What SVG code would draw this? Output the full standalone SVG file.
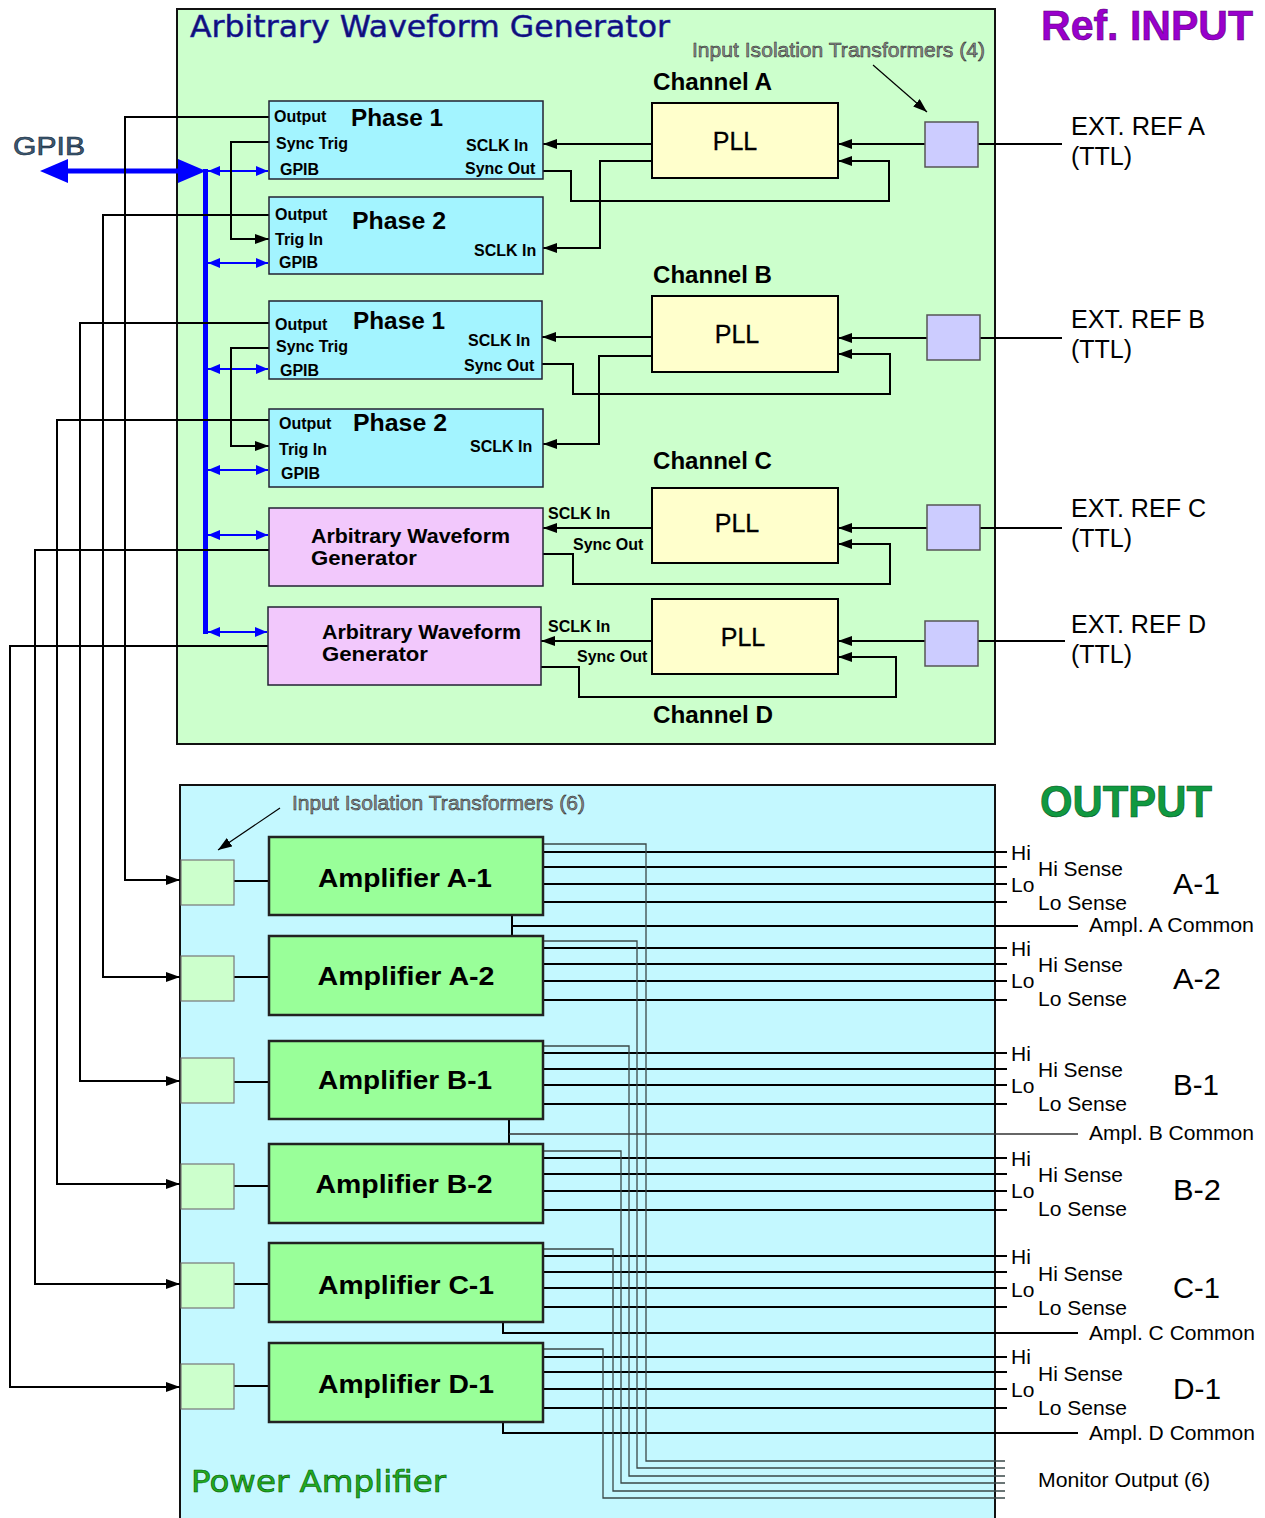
<svg xmlns="http://www.w3.org/2000/svg" width="1265" height="1518" viewBox="0 0 1265 1518">
<defs>
<marker id="ah" viewBox="0 0 14 10" refX="14" refY="5" markerWidth="14" markerHeight="10" markerUnits="userSpaceOnUse" orient="auto"><path d="M0,0 L14,5 L0,10 z" fill="#000"/></marker>
<marker id="bh" viewBox="0 0 12 10" refX="12" refY="5" markerWidth="12" markerHeight="10" markerUnits="userSpaceOnUse" orient="auto-start-reverse"><path d="M0,0 L12,5 L0,10 z" fill="#00f"/></marker>
<style>
text{font-family:"Liberation Sans",Arial,sans-serif;fill:#000}
.w{fill:none;stroke:#000;stroke-width:2}
.wa{fill:none;stroke:#000;stroke-width:2;marker-end:url(#ah)}
.thin{fill:none;stroke:#000;stroke-width:1.2;marker-end:url(#ah)}
.mon{fill:none;stroke:#3a4848;stroke-width:1.3}
.o{fill:none;stroke:#000;stroke-width:2}
.gp{fill:none;stroke:#00f;stroke-width:2;marker-start:url(#bh);marker-end:url(#bh)}
.ph{fill:#a3f4ff;stroke:#223;stroke-width:1.5}
.awg{fill:#f2c8fc;stroke:#223;stroke-width:1.5}
.pll{fill:#ffffcc;stroke:#000;stroke-width:2}
.tt{fill:#ccccff;stroke:#555;stroke-width:1.5}
.tb{fill:#ccffcc;stroke:#777;stroke-width:1.2}
.amp{fill:#99ff99;stroke:#222;stroke-width:2.5}
.s{font-size:16px;font-weight:bold}
.pn{font-size:24px;font-weight:bold}
.ch{font-size:23px;font-weight:bold}
.pl{font-size:25px;stroke:#000;stroke-width:0.3}
.ex{font-size:25px}
.ag{font-size:21px;font-weight:bold}
.am{font-size:26px;font-weight:bold;text-anchor:middle}
.lb{font-size:21px}
.cm{font-size:21px}
.id{font-size:29px}
.iso{font-size:21px;fill:#8c8c8c;stroke:#222;stroke-width:0.5}
</style>
</defs>

<g id="awg-container">
<rect x="177" y="9" width="818" height="735" fill="#ccffcc" stroke="#111" stroke-width="2"/>
<text x="190" y="37" textLength="480" lengthAdjust="spacingAndGlyphs" style="font-family:'DejaVu Sans',sans-serif;font-size:30px;fill:#101070;stroke:#2020c0;stroke-width:0.5">Arbitrary Waveform Generator</text>
</g>
<g id="pa-container">
<rect x="180" y="785" width="815" height="740" fill="#c4f8ff" stroke="#111" stroke-width="2"/>
<text x="191" y="1492" textLength="255" lengthAdjust="spacingAndGlyphs" style="font-family:'DejaVu Sans',sans-serif;font-size:31px;fill:#22aa22;stroke:#005500;stroke-width:0.6">Power Amplifier</text>
</g>

<g id="titles">
<text x="1041" y="40" textLength="212" lengthAdjust="spacingAndGlyphs" style="font-size:42px;font-weight:bold;fill:#9900cc;stroke:#550077;stroke-width:0.6">Ref. INPUT</text>
<text x="1040" y="817" textLength="172" lengthAdjust="spacingAndGlyphs" style="font-size:44px;font-weight:bold;fill:#109940;stroke:#045020;stroke-width:0.6">OUTPUT</text>
<text x="13" y="155" textLength="72" lengthAdjust="spacingAndGlyphs" style="font-size:26px;fill:#3d5a73;stroke:#112233;stroke-width:0.6">GPIB</text>
<text class="iso" x="692" y="57" textLength="293" lengthAdjust="spacingAndGlyphs">Input Isolation Transformers (4)</text>
<text class="iso" x="292" y="810" textLength="293" lengthAdjust="spacingAndGlyphs">Input Isolation Transformers (6)</text>
<text class="ch" x="653" y="90" textLength="119" lengthAdjust="spacingAndGlyphs">Channel A</text>
<text class="ch" x="653" y="283" textLength="119" lengthAdjust="spacingAndGlyphs">Channel B</text>
<text class="ch" x="653" y="469" textLength="119" lengthAdjust="spacingAndGlyphs">Channel C</text>
<text class="ch" x="653" y="723" textLength="120" lengthAdjust="spacingAndGlyphs">Channel D</text>
<text class="ex" x="1071" y="135" textLength="134" lengthAdjust="spacingAndGlyphs">EXT. REF A</text>
<text class="ex" x="1071" y="165">(TTL)</text>
<text class="ex" x="1071" y="328" textLength="134" lengthAdjust="spacingAndGlyphs">EXT. REF B</text>
<text class="ex" x="1071" y="358">(TTL)</text>
<text class="ex" x="1071" y="517" textLength="135" lengthAdjust="spacingAndGlyphs">EXT. REF C</text>
<text class="ex" x="1071" y="547">(TTL)</text>
<text class="ex" x="1071" y="633" textLength="135" lengthAdjust="spacingAndGlyphs">EXT. REF D</text>
<text class="ex" x="1071" y="663">(TTL)</text>
</g>

<g id="connectors">
<!-- GPIB bus -->
<line x1="62" y1="171" x2="185" y2="171" stroke="#00f" stroke-width="5"/>
<polygon points="40,171 68,159 68,183" fill="#00f"/>
<polygon points="206,171 178,159 178,183" fill="#00f"/>
<polyline points="205.5,169 205.5,634" fill="none" stroke="#00f" stroke-width="5"/>
<line class="gp" x1="208" y1="171" x2="268" y2="171"/>
<line class="gp" x1="208" y1="263" x2="268" y2="263"/>
<line class="gp" x1="208" y1="369" x2="268" y2="369"/>
<line class="gp" x1="208" y1="470" x2="268" y2="470"/>
<line class="gp" x1="208" y1="535" x2="268" y2="535"/>
<line class="gp" x1="208" y1="632" x2="267" y2="632"/>

<!-- Channel A -->
<line class="w" x1="978" y1="144" x2="1062" y2="144"/>
<line class="wa" x1="925" y1="144" x2="838" y2="144"/>
<line class="wa" x1="652" y1="144" x2="543" y2="144"/>
<polyline class="wa" points="652,161 600,161 600,248 543,248"/>
<polyline class="wa" points="543,171 571,171 571,201 889,201 889,161 838,161"/>
<polyline class="wa" points="269,142 231,142 231,239 269,239"/>
<polyline class="wa" points="269,117 125,117 125,880 180,880"/>
<polyline class="wa" points="269,215 103,215 103,977 180,977"/>

<!-- Channel B -->
<line class="w" x1="980" y1="338" x2="1062" y2="338"/>
<line class="wa" x1="927" y1="338" x2="838" y2="338"/>
<line class="wa" x1="652" y1="337" x2="542" y2="337"/>
<polyline class="wa" points="652,356 599,356 599,444 543,444"/>
<polyline class="wa" points="542,364 573,364 573,394 890,394 890,354 838,354"/>
<polyline class="wa" points="269,348 231,348 231,446 269,446"/>
<polyline class="wa" points="269,323 80,323 80,1081 180,1081"/>
<polyline class="wa" points="269,420 57,420 57,1184 180,1184"/>

<!-- Channel C -->
<line class="w" x1="980" y1="528" x2="1062" y2="528"/>
<line class="wa" x1="927" y1="528" x2="838" y2="528"/>
<line class="wa" x1="652" y1="528" x2="543" y2="528"/>
<polyline class="wa" points="543,554 573,554 573,584 890,584 890,544 838,544"/>
<polyline class="wa" points="269,550 35,550 35,1284 180,1284"/>

<!-- Channel D -->
<line class="w" x1="978" y1="641" x2="1065" y2="641"/>
<line class="wa" x1="925" y1="641" x2="838" y2="641"/>
<line class="wa" x1="652" y1="641" x2="541" y2="641"/>
<polyline class="wa" points="541,667 579,667 579,697 896,697 896,657 838,657"/>
<polyline class="wa" points="268,646 10,646 10,1387 180,1387"/>

<!-- label pointers -->
<line class="thin" x1="873" y1="65" x2="927" y2="112"/>
<line class="thin" x1="280" y1="808" x2="218" y2="850"/>

<!-- transformer to amplifier -->
<line class="w" x1="234" y1="881" x2="269" y2="881"/>
<line class="w" x1="234" y1="977" x2="269" y2="977"/>
<line class="w" x1="234" y1="1082" x2="269" y2="1082"/>
<line class="w" x1="234" y1="1186" x2="269" y2="1186"/>
<line class="w" x1="234" y1="1284" x2="269" y2="1284"/>
<line class="w" x1="234" y1="1386" x2="269" y2="1386"/>

<!-- outputs A-1 -->
<line class="o" x1="543" y1="852" x2="1007" y2="852"/>
<line class="o" x1="543" y1="867" x2="1007" y2="867"/>
<line class="o" x1="543" y1="884" x2="1007" y2="884"/>
<line class="o" x1="543" y1="902" x2="1007" y2="902"/>
<!-- outputs A-2 -->
<line class="o" x1="543" y1="948" x2="1007" y2="948"/>
<line class="o" x1="543" y1="964" x2="1007" y2="964"/>
<line class="o" x1="543" y1="981" x2="1007" y2="981"/>
<line class="o" x1="543" y1="1000" x2="1007" y2="1000"/>
<polyline class="o" points="512,915 512,926 1078,926"/>
<line class="o" x1="512" y1="926" x2="512" y2="936"/>
<!-- outputs B-1 -->
<line class="o" x1="543" y1="1053" x2="1007" y2="1053"/>
<line class="o" x1="543" y1="1069" x2="1007" y2="1069"/>
<line class="o" x1="543" y1="1085" x2="1007" y2="1085"/>
<line class="o" x1="543" y1="1104" x2="1007" y2="1104"/>
<!-- outputs B-2 -->
<line class="o" x1="543" y1="1158" x2="1007" y2="1158"/>
<line class="o" x1="543" y1="1174" x2="1007" y2="1174"/>
<line class="o" x1="543" y1="1191" x2="1007" y2="1191"/>
<line class="o" x1="543" y1="1210" x2="1007" y2="1210"/>
<line x1="509" y1="1119" x2="509" y2="1144" stroke="#000" stroke-width="2"/>
<line x1="509" y1="1134" x2="1078" y2="1134" stroke="#333" stroke-width="1.5"/>
<!-- outputs C-1 -->
<line class="o" x1="543" y1="1256" x2="1007" y2="1256"/>
<line class="o" x1="543" y1="1272" x2="1007" y2="1272"/>
<line class="o" x1="543" y1="1288" x2="1007" y2="1288"/>
<line class="o" x1="543" y1="1307" x2="1007" y2="1307"/>
<polyline class="o" points="503,1322 503,1333 1078,1333"/>
<!-- outputs D-1 -->
<line class="o" x1="543" y1="1357" x2="1007" y2="1357"/>
<line class="o" x1="543" y1="1372" x2="1007" y2="1372"/>
<line class="o" x1="543" y1="1389" x2="1007" y2="1389"/>
<line class="o" x1="543" y1="1408" x2="1007" y2="1408"/>
<polyline class="o" points="503,1422 503,1433 1078,1433"/>

<!-- monitor outputs -->
<polyline class="mon" points="543,844 646,844 646,1461 1005,1461"/>
<polyline class="mon" points="543,941 637,941 637,1468 1005,1468"/>
<polyline class="mon" points="543,1046 629,1046 629,1476 1005,1476"/>
<polyline class="mon" points="543,1151 621,1151 621,1483 1005,1483"/>
<polyline class="mon" points="543,1249 613,1249 613,1491 1005,1491"/>
<polyline class="mon" points="543,1349 603,1349 603,1498 1005,1498"/>
</g>

<g id="phase1-a">
<rect class="ph" x="269" y="101" width="274" height="78"/>
<text class="s" x="274" y="122">Output</text>
<text class="pn" x="351" y="126" textLength="92" lengthAdjust="spacingAndGlyphs">Phase 1</text>
<text class="s" x="276" y="149">Sync Trig</text>
<text class="s" x="280" y="175">GPIB</text>
<text class="s" x="466" y="151">SCLK In</text>
<text class="s" x="465" y="174">Sync Out</text>
</g>
<g id="phase2-a">
<rect class="ph" x="269" y="197" width="274" height="77"/>
<text class="s" x="275" y="220">Output</text>
<text class="pn" x="352" y="229" textLength="94" lengthAdjust="spacingAndGlyphs">Phase 2</text>
<text class="s" x="275" y="245">Trig In</text>
<text class="s" x="279" y="268">GPIB</text>
<text class="s" x="474" y="256">SCLK In</text>
</g>
<g id="phase1-b">
<rect class="ph" x="269" y="301" width="273" height="78"/>
<text class="s" x="275" y="330">Output</text>
<text class="pn" x="353" y="329" textLength="92" lengthAdjust="spacingAndGlyphs">Phase 1</text>
<text class="s" x="276" y="352">Sync Trig</text>
<text class="s" x="280" y="376">GPIB</text>
<text class="s" x="468" y="346">SCLK In</text>
<text class="s" x="464" y="371">Sync Out</text>
</g>
<g id="phase2-b">
<rect class="ph" x="269" y="409" width="274" height="78"/>
<text class="s" x="279" y="429">Output</text>
<text class="pn" x="353" y="431" textLength="94" lengthAdjust="spacingAndGlyphs">Phase 2</text>
<text class="s" x="279" y="455">Trig In</text>
<text class="s" x="281" y="479">GPIB</text>
<text class="s" x="470" y="452">SCLK In</text>
</g>
<g id="awg-c">
<rect class="awg" x="269" y="508" width="274" height="78"/>
<text class="ag" x="311" y="543" textLength="199" lengthAdjust="spacingAndGlyphs">Arbitrary Waveform</text>
<text class="ag" x="311" y="565" textLength="106" lengthAdjust="spacingAndGlyphs">Generator</text>
<text class="s" x="548" y="519">SCLK In</text>
<text class="s" x="573" y="550">Sync Out</text>
</g>
<g id="awg-d">
<rect class="awg" x="268" y="607" width="273" height="78"/>
<text class="ag" x="322" y="639" textLength="199" lengthAdjust="spacingAndGlyphs">Arbitrary Waveform</text>
<text class="ag" x="322" y="661" textLength="106" lengthAdjust="spacingAndGlyphs">Generator</text>
<text class="s" x="548" y="632">SCLK In</text>
<text class="s" x="577" y="662">Sync Out</text>
</g>

<g id="pll-a"><rect class="pll" x="652" y="103" width="186" height="75"/><text class="pl" x="735" y="150" text-anchor="middle">PLL</text></g>
<g id="pll-b"><rect class="pll" x="652" y="296" width="186" height="76"/><text class="pl" x="737" y="343" text-anchor="middle">PLL</text></g>
<g id="pll-c"><rect class="pll" x="652" y="488" width="186" height="75"/><text class="pl" x="737" y="532" text-anchor="middle">PLL</text></g>
<g id="pll-d"><rect class="pll" x="652" y="599" width="186" height="75"/><text class="pl" x="743" y="646" text-anchor="middle">PLL</text></g>

<g id="xfmr-a"><rect class="tt" x="925" y="122" width="53" height="45"/></g>
<g id="xfmr-b"><rect class="tt" x="927" y="315" width="53" height="45"/></g>
<g id="xfmr-c"><rect class="tt" x="927" y="505" width="53" height="45"/></g>
<g id="xfmr-d"><rect class="tt" x="925" y="621" width="53" height="45"/></g>

<g id="xfmr-out-a1"><rect class="tb" x="181" y="860" width="53" height="45"/></g>
<g id="xfmr-out-a2"><rect class="tb" x="181" y="956" width="53" height="45"/></g>
<g id="xfmr-out-b1"><rect class="tb" x="181" y="1058" width="53" height="45"/></g>
<g id="xfmr-out-b2"><rect class="tb" x="181" y="1164" width="53" height="45"/></g>
<g id="xfmr-out-c1"><rect class="tb" x="181" y="1263" width="53" height="45"/></g>
<g id="xfmr-out-d1"><rect class="tb" x="181" y="1364" width="53" height="45"/></g>

<g id="amp-a1"><rect class="amp" x="269" y="837" width="274" height="78"/><text class="am" x="405" y="887" textLength="174" lengthAdjust="spacingAndGlyphs">Amplifier A-1</text></g>
<g id="amp-a2"><rect class="amp" x="269" y="936" width="274" height="79"/><text class="am" x="406" y="985" textLength="177" lengthAdjust="spacingAndGlyphs">Amplifier A-2</text></g>
<g id="amp-b1"><rect class="amp" x="269" y="1041" width="274" height="78"/><text class="am" x="405" y="1089" textLength="174" lengthAdjust="spacingAndGlyphs">Amplifier B-1</text></g>
<g id="amp-b2"><rect class="amp" x="269" y="1144" width="274" height="79"/><text class="am" x="404" y="1193" textLength="177" lengthAdjust="spacingAndGlyphs">Amplifier B-2</text></g>
<g id="amp-c1"><rect class="amp" x="269" y="1243" width="274" height="79"/><text class="am" x="406" y="1294" textLength="176" lengthAdjust="spacingAndGlyphs">Amplifier C-1</text></g>
<g id="amp-d1"><rect class="amp" x="269" y="1343" width="274" height="79"/><text class="am" x="406" y="1393" textLength="176" lengthAdjust="spacingAndGlyphs">Amplifier D-1</text></g>

<g id="output-labels">
<text class="lb" x="1011" y="860">Hi</text><text class="lb" x="1038" y="876" textLength="85" lengthAdjust="spacingAndGlyphs">Hi Sense</text><text class="lb" x="1011" y="892">Lo</text><text class="lb" x="1038" y="910" textLength="89" lengthAdjust="spacingAndGlyphs">Lo Sense</text><text class="id" x="1173" y="894" textLength="47" lengthAdjust="spacingAndGlyphs">A-1</text>
<text class="cm" x="1089" y="932" textLength="165" lengthAdjust="spacingAndGlyphs">Ampl. A Common</text>
<text class="lb" x="1011" y="956">Hi</text><text class="lb" x="1038" y="972" textLength="85" lengthAdjust="spacingAndGlyphs">Hi Sense</text><text class="lb" x="1011" y="988">Lo</text><text class="lb" x="1038" y="1006" textLength="89" lengthAdjust="spacingAndGlyphs">Lo Sense</text><text class="id" x="1173" y="989" textLength="48" lengthAdjust="spacingAndGlyphs">A-2</text>
<text class="lb" x="1011" y="1061">Hi</text><text class="lb" x="1038" y="1077" textLength="85" lengthAdjust="spacingAndGlyphs">Hi Sense</text><text class="lb" x="1011" y="1093">Lo</text><text class="lb" x="1038" y="1111" textLength="89" lengthAdjust="spacingAndGlyphs">Lo Sense</text><text class="id" x="1173" y="1095" textLength="46" lengthAdjust="spacingAndGlyphs">B-1</text>
<text class="cm" x="1089" y="1140" textLength="165" lengthAdjust="spacingAndGlyphs">Ampl. B Common</text>
<text class="lb" x="1011" y="1166">Hi</text><text class="lb" x="1038" y="1182" textLength="85" lengthAdjust="spacingAndGlyphs">Hi Sense</text><text class="lb" x="1011" y="1198">Lo</text><text class="lb" x="1038" y="1216" textLength="89" lengthAdjust="spacingAndGlyphs">Lo Sense</text><text class="id" x="1173" y="1200" textLength="48" lengthAdjust="spacingAndGlyphs">B-2</text>
<text class="lb" x="1011" y="1264">Hi</text><text class="lb" x="1038" y="1281" textLength="85" lengthAdjust="spacingAndGlyphs">Hi Sense</text><text class="lb" x="1011" y="1297">Lo</text><text class="lb" x="1038" y="1315" textLength="89" lengthAdjust="spacingAndGlyphs">Lo Sense</text><text class="id" x="1173" y="1298" textLength="47" lengthAdjust="spacingAndGlyphs">C-1</text>
<text class="cm" x="1089" y="1340" textLength="166" lengthAdjust="spacingAndGlyphs">Ampl. C Common</text>
<text class="lb" x="1011" y="1364">Hi</text><text class="lb" x="1038" y="1381" textLength="85" lengthAdjust="spacingAndGlyphs">Hi Sense</text><text class="lb" x="1011" y="1397">Lo</text><text class="lb" x="1038" y="1415" textLength="89" lengthAdjust="spacingAndGlyphs">Lo Sense</text><text class="id" x="1173" y="1399" textLength="48" lengthAdjust="spacingAndGlyphs">D-1</text>
<text class="cm" x="1089" y="1440" textLength="166" lengthAdjust="spacingAndGlyphs">Ampl. D Common</text>
<text class="lb" x="1038" y="1487" textLength="172" lengthAdjust="spacingAndGlyphs">Monitor Output (6)</text>
</g>
</svg>
